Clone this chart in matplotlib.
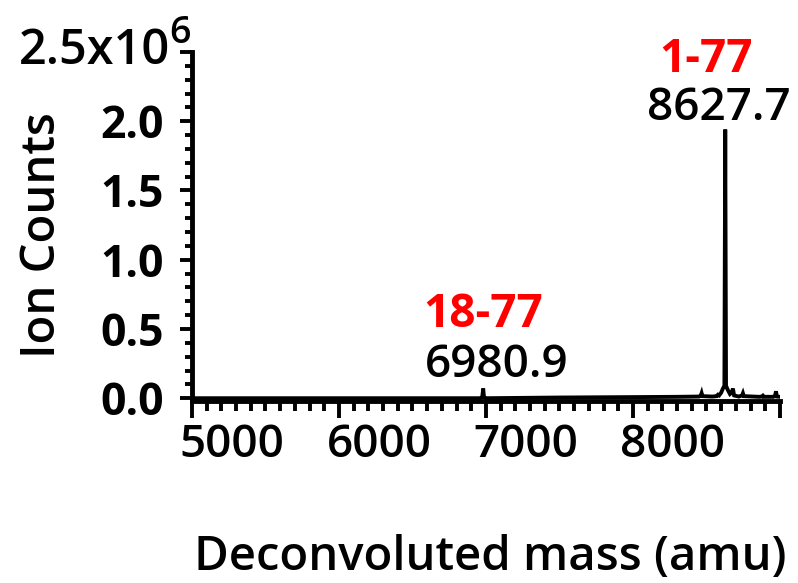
import matplotlib
matplotlib.use("Agg")
import matplotlib.pyplot as plt
import matplotlib.transforms as mtransforms
from matplotlib.ticker import MultipleLocator

massa = [5000, 6000, 6960, 6975, 6980.9, 6986, 7000, 7500, 8000, 8300,
         8450, 8462, 8467, 8472, 8540, 8570, 8578, 8586,
         8600, 8612, 8622, 8627.7, 8633, 8645, 8660, 8672, 8680, 8688,
         8720, 8742, 8748, 8754, 8860, 8878, 8884, 8890,
         8955, 8967, 8973, 8979, 9000]
contagens = [0.0, 0.0, 0.0, 0.01, 0.07, 0.01, 0.0, 0.005, 0.008, 0.01,
             0.012, 0.02, 0.036, 0.015, 0.012, 0.015, 0.025, 0.02,
             0.04, 0.07, 0.09, 1.94, 0.09, 0.06, 0.03, 0.04, 0.07, 0.02,
             0.012, 0.02, 0.036, 0.015, 0.01, 0.012, 0.018, 0.01,
             0.01, 0.02, 0.05, 0.012, 0.01]

# Picos anotados
picos_faixa = ["18-77", "1-77"]
picos_massa = [6980.9, 8627.7]

x_ticks = [5000, 6000, 7000, 8000, 9000]
x_labels = ["5000", "6000", "7000", "8000", ""]
y_ticks = [0.0, 0.5, 1.0, 1.5, 2.0, 2.5]
y_labels = ["0.0", "0.5", "1.0", "1.5", "2.0", ""]

plt.rcParams['font.family'] = ['Open Sans', 'DejaVu Sans']

fig = plt.figure(figsize=(7.98, 5.83), dpi=100)
ax = fig.add_axes([0.2406, 0.3122, 0.7368, 0.5986])

ax.plot(massa, [c * 1e6 for c in contagens], color='black', lw=2.8,
        solid_joinstyle='miter')

ax.set_xlim(5000, 9000)
ax.set_ylim(-0.02e6, 2.5e6)

ax.spines['top'].set_visible(False)
ax.spines['right'].set_visible(False)
for lado in ['left', 'bottom']:
    ax.spines[lado].set_linewidth(3.5)
ax.spines['left'].set_bounds(0, 2.5e6)

ax.set_xticks(x_ticks)
ax.set_xticklabels(x_labels, fontsize=33, fontweight='semibold')
ax.xaxis.set_minor_locator(MultipleLocator(100))
ax.set_yticks([v * 1e6 for v in y_ticks])
ax.set_yticklabels(y_labels, fontsize=32, fontweight='bold')
ax.yaxis.set_minor_locator(MultipleLocator(0.1e6))

ax.tick_params(axis='x', which='major', length=12, width=2.8, pad=4)
ax.tick_params(axis='x', which='minor', length=7, width=2.8)
ax.tick_params(axis='y', which='major', length=9, width=2.8, pad=11)
ax.tick_params(axis='y', which='minor', length=5, width=2.8)

# rótulos do eixo x ficam deslocados para a direita no original
desloc = mtransforms.ScaledTranslation(0.40, 0, fig.dpi_scale_trans)
for rot in ax.get_xticklabels():
    rot.set_transform(rot.get_transform() + desloc)

# rótulo do topo com expoente
fig.text(170 / 798, 1 - 52 / 583, "2.5x10", fontsize=35, fontweight='semibold',
         ha='right', va='center')
fig.text(169 / 798, 1 - 43 / 583, "6", fontsize=27, fontweight='semibold',
         ha='left', va='baseline')

# anotações dos picos
ax.text(6983, 0.513e6, picos_faixa[0], color='red', fontsize=33,
        fontweight='bold', ha='center', va='baseline')
ax.text(7075, 0.152e6, f"{picos_massa[0]:.1f}", color='black', fontsize=33,
        fontweight='semibold', ha='center', va='baseline')
ax.text(8497, 2.355e6, picos_faixa[1], color='red', fontsize=33,
        fontweight='bold', ha='center', va='baseline', clip_on=False)
ax.text(8585, 2.009e6, f"{picos_massa[1]:.1f}", color='black', fontsize=33,
        fontweight='semibold', ha='center', va='baseline', clip_on=False)

fig.text(43 / 798, 1 - 235 / 583, "Ion Counts", fontsize=34,
         fontweight='semibold', rotation=90, ha='center', va='center')
fig.text(490 / 798, 0.022, "Deconvoluted mass (amu)", fontsize=34,
         fontweight='semibold', ha='center', va='baseline')

fig.savefig('out.png', dpi=100)
